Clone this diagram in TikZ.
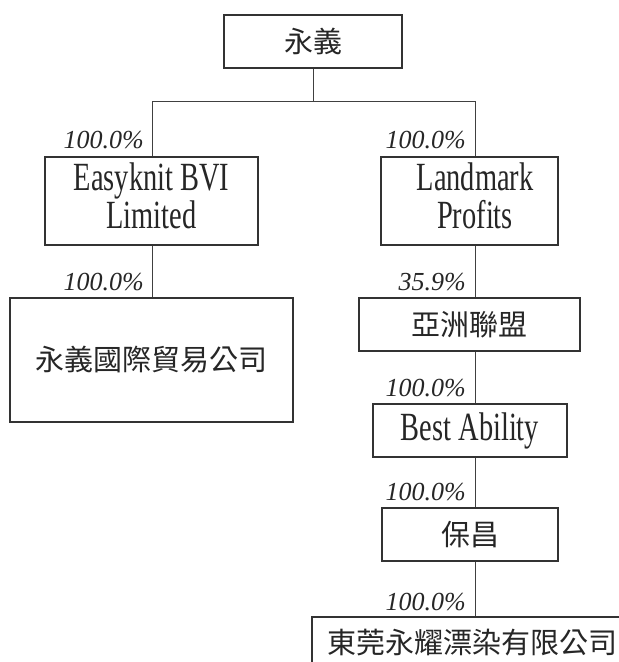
\documentclass[tikz,border=0pt]{standalone}
\usepackage{fontspec}
\setmainfont{Liberation Serif}
\newfontfamily\latn[FakeStretch=0.71]{Liberation Serif}
\newfontfamily\cjk{Noto Sans CJK TC}
\begin{document}
\begin{tikzpicture}[x=1pt,y=-1pt,
  box/.style={draw=black!80, line width=1.1pt, inner sep=0pt},
  conn/.style={draw=black!75, line width=1pt},
  pct/.style={font=\fontsize{26}{26}\selectfont\itshape, anchor=east, inner sep=0pt, text=black!85},
  lat/.style={font=\latn\fontsize{40}{35}\selectfont, align=center, text=black!85},
  zh/.style={font=\cjk\fontsize{29}{29}\selectfont, text=black!85}]
\clip (0,0) rectangle (619,662);
\fill[white] (0,0) rectangle (619,662);
% boxes with their texts
\node[box, zh, minimum width=178, minimum height=53] (top) at (313,41.5) {\raisebox{1.5pt}{永義}};
\node[box, lat, minimum width=213, minimum height=88] (ek) at (151.5,201) {\raisebox{-4.5pt}{\begin{tabular}{@{}c@{}}Easyknit BVI\\Limited\end{tabular}}};
\node[box, lat, minimum width=177, minimum height=88] (lm) at (469.5,201) {\hspace*{11pt}\raisebox{-4.5pt}{\begin{tabular}{@{}c@{}}Landmark\\Profits\end{tabular}}};
\node[box, zh, minimum width=283, minimum height=124] (big) at (151.5,360) {\raisebox{3pt}{永義國際貿易公司}};
\node[box, zh, minimum width=221, minimum height=53] (az) at (469.5,324.5) {\raisebox{2.5pt}{亞洲聯盟}};
\node[box, lat, minimum width=194, minimum height=53] (ba) at (470,430.5) {\raisebox{-3pt}{Best Ability}};
\node[box, zh, minimum width=176, minimum height=53] (bc) at (470,534.5) {\raisebox{0.5pt}{保昌}};
\node[box, zh, minimum width=320, minimum height=53] (dg) at (472,643.5) {\raisebox{3.5pt}{東莞永耀漂染有限公司}};
% connectors
\coordinate (jl) at (152,101);
\coordinate (jr) at (475,101);
\draw[conn] (top.south) -- (top.south |- jl);
\draw[conn] (jl) -- (jr);
\draw[conn] (jl) -- (jl |- ek.north);
\draw[conn] (jr) -- (jr |- lm.north);
\draw[conn] (jl |- ek.south) -- (jl |- big.north);
\draw[conn] (jr |- lm.south) -- (jr |- az.north);
\draw[conn] (jr |- az.south) -- (jr |- ba.north);
\draw[conn] (jr |- ba.south) -- (jr |- bc.north);
\draw[conn] (jr |- bc.south) -- (jr |- dg.north);
% percentages
\node[pct] (p1) at (144,140) {100.0\%};
\node[pct] (p2) at (466,140) {100.0\%};
\node[pct] (p3) at (144,282) {100.0\%};
\node[pct] (p4) at (466,282) {35.9\%};
\node[pct] (p5) at (466,388) {100.0\%};
\node[pct] (p6) at (466,492) {100.0\%};
\node[pct] (p7) at (466,602) {100.0\%};
\end{tikzpicture}
\end{document}
